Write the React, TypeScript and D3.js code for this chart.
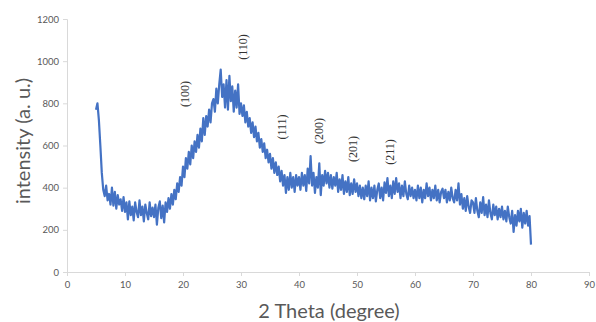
import * as d3 from 'd3';
import { useEffect, useRef } from 'react';

// scan starts at 5.0 deg, step 0.25 deg, one row = 5 degrees
const thetaStart = 5.0;
const thetaStep = 0.25;

const intensity: number[] = [
  770, 800, 720, 600, 470, 390, 360, 410, 340, 370, 320, 400, 315, 380, 300, 365, 320, 345, 290, 355,
  285, 330, 250, 335, 270, 310, 245, 330, 285, 260, 340, 270, 310, 240, 320, 280, 250, 330, 265, 305,
  260, 320, 225, 305, 335, 255, 315, 235, 330, 285, 350, 300, 370, 320, 390, 345, 420, 380, 450, 410,
  500, 450, 540, 490, 570, 510, 600, 540, 620, 570, 650, 590, 680, 620, 730, 650, 740, 690, 770, 710,
  800, 820, 760, 870, 800, 890, 960, 830, 890, 780, 910, 770, 930, 810, 880, 760, 860, 780, 890, 750,
  800, 740, 790, 710, 760, 690, 730, 660, 710, 640, 690, 620, 660, 590, 630, 570, 610, 540, 580, 520,
  560, 490, 540, 470, 520, 460, 500, 430, 480, 410, 460, 375, 450, 390, 470, 400, 450, 380, 460, 410,
  450, 390, 470, 410, 460, 385, 490, 420, 550, 410, 470, 375, 450, 400, 515, 365, 460, 410, 480, 420,
  470, 400, 460, 395, 450, 410, 470, 380, 440, 390, 460, 370, 430, 380, 450, 365, 420, 370, 440, 380,
  420, 360, 410, 350, 400, 345, 410, 360, 430, 340, 400, 350, 410, 335, 390, 420, 350, 400, 340, 425,
  375, 445, 360, 410, 350, 430, 370, 445, 380, 420, 350, 410, 360, 430, 370, 345, 410, 360, 400, 350,
  390, 340, 410, 350, 400, 330, 390, 350, 420, 360, 400, 340, 390, 350, 410, 340, 390, 330, 380, 395,
  350, 390, 330, 380, 340, 400, 350, 330, 390, 340, 420, 320, 370, 300, 350, 290, 360, 310, 280, 340,
  330, 280, 350, 290, 260, 330, 280, 355, 270, 320, 260, 340, 280, 250, 320, 270, 310, 250, 300, 260,
  310, 250, 290, 240, 310, 260, 230, 290, 190, 270, 220, 290, 240, 300, 210, 280, 230, 290, 220, 265,
  130,
];

const peakLabels = ['(100)', '(110)', '(111)', '(200)', '(201)', '(211)'];
const peakTheta = [20.3, 30.3, 37.1, 43.5, 49.3, 55.7];
const peakLevel = [844, 1067, 688, 669, 583, 569];

const xTicks = [0, 10, 20, 30, 40, 50, 60, 70, 80, 90];
const yTicks = [0, 200, 400, 600, 800, 1000, 1200];

const width = 596;
const height = 322;
const margin = { top: 19, right: 7, bottom: 50, left: 67 };

export default function App() {
  const ref = useRef<SVGSVGElement>(null);

  useEffect(() => {
    const svg = d3.select(ref.current);
    svg.selectAll('*').remove();

    const x = d3.scaleLinear().domain([0, 90]).range([margin.left, width - margin.right]);
    const y = d3.scaleLinear().domain([0, 1200]).range([height - margin.bottom, margin.top]);

    const data = intensity.map((v, i) => ({ t: thetaStart + i * thetaStep, v }));

    const xAxis = svg
      .append('g')
      .attr('transform', `translate(0,${y(0)})`)
      .call(d3.axisBottom(x).tickValues(xTicks).tickFormat(d3.format('d')).tickSizeOuter(0).tickSize(4).tickPadding(5));
    const yAxis = svg
      .append('g')
      .attr('transform', `translate(${x(0)},0)`)
      .call(d3.axisLeft(y).tickValues(yTicks).tickFormat(d3.format('d')).tickSizeOuter(0).tickSize(4).tickPadding(4));

    [xAxis, yAxis].forEach((g) => {
      g.select('.domain').attr('stroke', '#d9d9d9');
      g.selectAll('.tick line').attr('stroke', '#d9d9d9');
      g.selectAll('.tick text')
        .attr('fill', '#595959')
        .style('font-family', 'Lato, sans-serif')
        .style('font-size', '9.5px');
    });

    const line = d3
      .line<{ t: number; v: number }>()
      .x((d) => x(d.t))
      .y((d) => y(d.v));

    svg
      .append('path')
      .datum(data)
      .attr('d', line)
      .attr('fill', 'none')
      .attr('stroke', '#4472c4')
      .attr('stroke-width', 2.2)
      .attr('stroke-linejoin', 'round');

    svg
      .selectAll('.peak')
      .data(peakLabels)
      .enter()
      .append('text')
      .attr('class', 'peak')
      .attr('transform', (d, i) => `translate(${x(peakTheta[i])},${y(peakLevel[i])}) rotate(-90)`)
      .attr('text-anchor', 'middle')
      .attr('dominant-baseline', 'central')
      .style('font-family', '"Liberation Serif", serif')
      .style('font-size', '12px')
      .attr('fill', '#333')
      .text((d) => d);

    svg
      .append('text')
      .attr('x', 329)
      .attr('y', 318)
      .attr('text-anchor', 'middle')
      .attr('fill', '#595959')
      .style('font-family', 'Lato, sans-serif')
      .style('font-size', '20px')
      .text('2 Theta (degree)');

    svg
      .append('text')
      .attr('transform', `translate(30,141) rotate(-90)`)
      .attr('text-anchor', 'middle')
      .attr('fill', '#595959')
      .style('font-family', 'Lato, sans-serif')
      .style('font-size', '20px')
      .text('intensity (a. u.)');
  }, []);

  return (
    <div style={{ position: 'absolute', left: 0, top: 0 }}>
      <svg ref={ref} width={width} height={height} style={{ display: 'block', background: '#fff' }} />
    </div>
  );
}
